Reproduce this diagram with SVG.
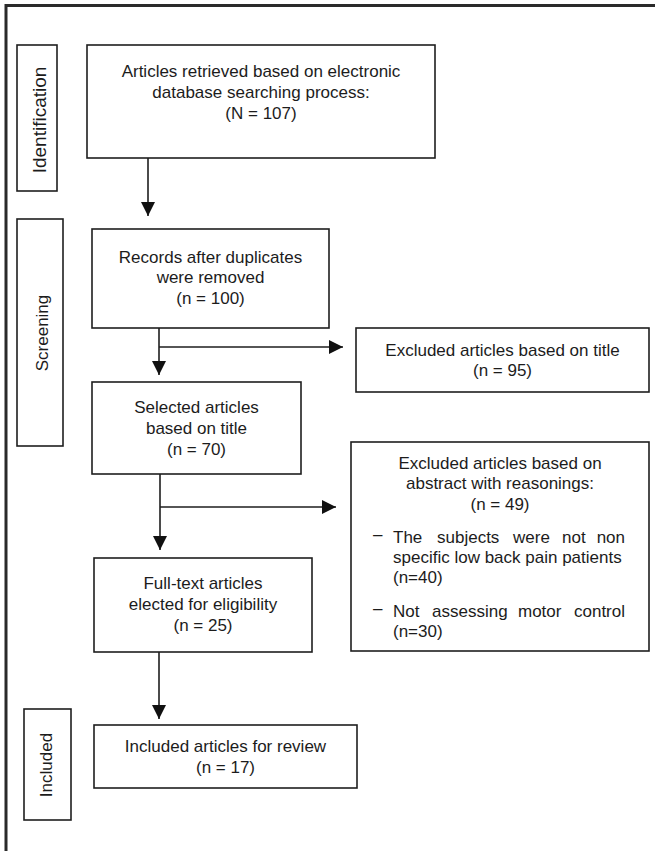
<svg xmlns="http://www.w3.org/2000/svg" width="655" height="851" viewBox="0 0 655 851">
<style>
  .box { fill: #ffffff; stroke: #1e1e1e; stroke-width: 1.6; }
  .t { font-family: "Liberation Sans", Arial, sans-serif; font-size: 17px; fill: #1c1c1c; }
  .c { text-anchor: middle; }
  .e { text-anchor: end; }
  .conn { stroke: #1e1e1e; stroke-width: 1.6; fill: none; }
  .frame { stroke: #2a2a2a; stroke-width: 3; fill: none; }
</style>
<defs>
  <marker id="arr" viewBox="0 0 14 14" refX="14" refY="7" markerWidth="14" markerHeight="14" markerUnits="userSpaceOnUse" orient="auto">
    <path d="M0,0 L14,7 L0,14 z" fill="#111111"/>
  </marker>
</defs>
<rect x="0" y="0" width="655" height="851" fill="#ffffff"/>
<g id="frame">
  <path class="frame" d="M6,851 L6,5.5 L655,5.5"/>
</g>

<g id="stage-identification">
  <rect class="box" x="17" y="45" width="40" height="146"/>
  <text class="t c" style="font-size:19px" transform="translate(46,120) rotate(-90)">Identification</text>
</g>
<g id="stage-screening">
  <rect class="box" x="17" y="219" width="46" height="227"/>
  <text class="t c" transform="translate(48,333) rotate(-90)">Screening</text>
</g>
<g id="stage-included">
  <rect class="box" x="24" y="709" width="47" height="111"/>
  <text class="t c" transform="translate(52,765) rotate(-90)">Included</text>
</g>

<g id="node-retrieved">
  <rect class="box" x="87" y="45" width="348" height="113"/>
  <text class="t c" x="261" y="77">Articles retrieved based on electronic</text>
  <text class="t c" x="261" y="98">database searching process:</text>
  <text class="t c" x="261" y="119">(N = 107)</text>
</g>
<g id="node-records">
  <rect class="box" x="92" y="229" width="237" height="99"/>
  <text class="t c" x="210.5" y="263">Records after duplicates</text>
  <text class="t c" x="210.5" y="283">were removed</text>
  <text class="t c" x="210.5" y="304">(n = 100)</text>
</g>
<g id="node-excluded-title">
  <rect class="box" x="356" y="328" width="293" height="64"/>
  <text class="t c" x="502.5" y="356">Excluded articles based on title</text>
  <text class="t c" x="502.5" y="376">(n = 95)</text>
</g>
<g id="node-selected">
  <rect class="box" x="92" y="382" width="209" height="92"/>
  <text class="t c" x="196.5" y="413">Selected articles</text>
  <text class="t c" x="196.5" y="434">based on title</text>
  <text class="t c" x="196.5" y="455">(n = 70)</text>
</g>
<g id="node-excluded-abstract">
  <rect class="box" x="351" y="442" width="298" height="209"/>
  <text class="t c" x="500" y="469">Excluded articles based on</text>
  <text class="t c" x="500" y="489">abstract with reasonings:</text>
  <text class="t c" x="500" y="510">(n = 49)</text>
  <text class="t" x="373" y="540">–</text>
  <text class="t" x="393" y="543">The</text>
  <text class="t" x="437" y="543">subjects</text>
  <text class="t" x="513" y="543">were</text>
  <text class="t" x="562" y="543">not</text>
  <text class="t e" x="625" y="543">non</text>
  <text class="t" x="393" y="563">specific low back pain patients</text>
  <text class="t" x="393" y="583">(n=40)</text>
  <text class="t" x="373" y="614">–</text>
  <text class="t" x="393" y="617">Not</text>
  <text class="t" x="432" y="617">assessing</text>
  <text class="t" x="518" y="617">motor</text>
  <text class="t e" x="625" y="617">control</text>
  <text class="t" x="393" y="637">(n=30)</text>
</g>
<g id="node-fulltext">
  <rect class="box" x="94" y="558" width="218" height="94"/>
  <text class="t c" x="203" y="589">Full-text articles</text>
  <text class="t c" x="203" y="610">elected for eligibility</text>
  <text class="t c" x="203" y="631">(n = 25)</text>
</g>
<g id="node-included">
  <rect class="box" x="94" y="725" width="263" height="63"/>
  <text class="t c" x="225.5" y="752">Included articles for review</text>
  <text class="t c" x="225.5" y="773">(n = 17)</text>
</g>

<g id="connectors">
  <line class="conn" x1="148" y1="158" x2="148" y2="216" marker-end="url(#arr)"/>
  <line class="conn" x1="159" y1="328" x2="159" y2="375" marker-end="url(#arr)"/>
  <line class="conn" x1="159" y1="347" x2="343" y2="347" marker-end="url(#arr)"/>
  <line class="conn" x1="160" y1="474" x2="160" y2="550" marker-end="url(#arr)"/>
  <line class="conn" x1="160" y1="507" x2="336" y2="507" marker-end="url(#arr)"/>
  <line class="conn" x1="159" y1="652" x2="159" y2="719" marker-end="url(#arr)"/>
</g>
</svg>
